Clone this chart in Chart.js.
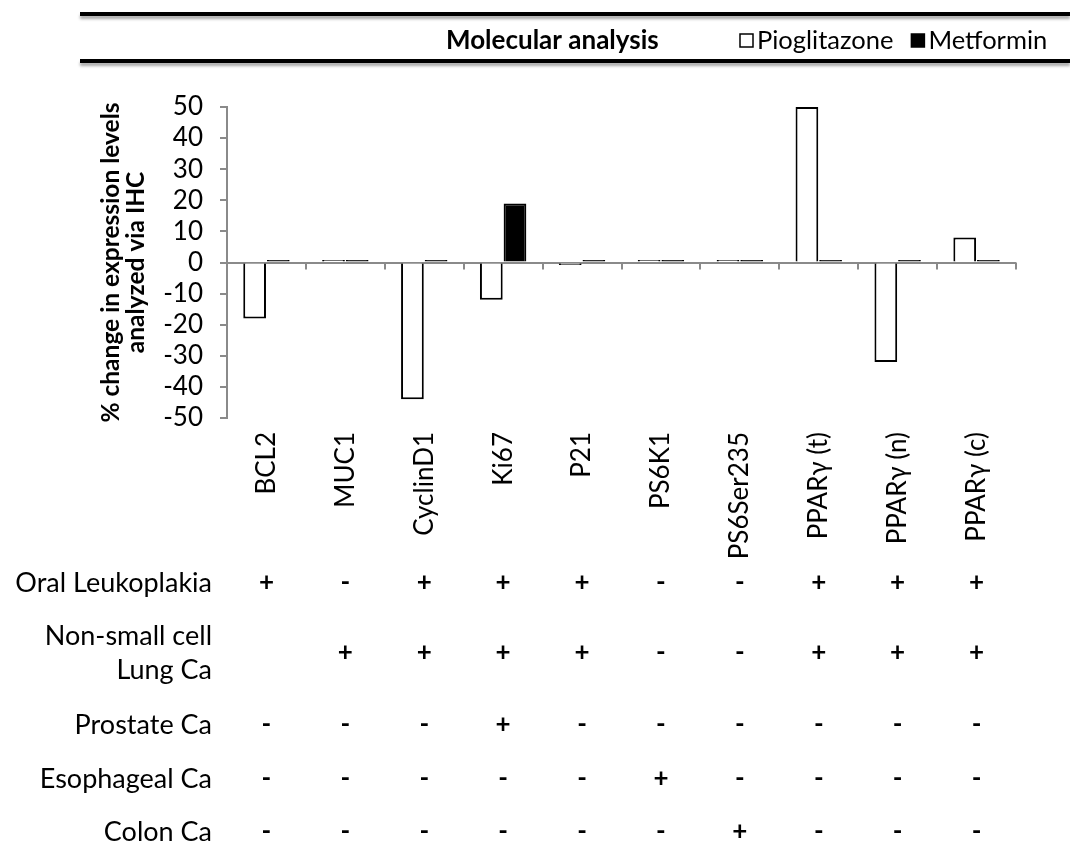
<!DOCTYPE html>
<html>
<head>
<meta charset="utf-8">
<script src="https://cdn.jsdelivr.net/npm/chart.js@4.4.1/dist/chart.umd.min.js"></script>
<style>
html,body{margin:0;padding:0;background:#fff;}
#wrap{width:1070px;height:852px;position:relative;}
</style>
</head>
<body>
<div id="wrap"><canvas id="c" width="1070" height="852"></canvas></div>
<script>
const categories = ['BCL2','MUC1','CyclinD1','Ki67','P21','PS6K1','PS6Ser235','PPARγ (t)','PPARγ (n)','PPARγ (c)'];
const pioglitazone = [-18, 0.8, -44, -12, -0.8, 0.8, 0.8, 50, -32, 8];
const metformin = [0.8, 0.8, 0.8, 19, 0.8, 0.8, 0.8, 0.8, 0.8, 0.8];
const seriesNames = ['Pioglitazone', 'Metformin'];
const headerTitle = 'Molecular analysis';
const yTitle = ['% change in expression levels', 'analyzed via IHC'];
const tableRows = ['Oral Leukoplakia', ['Non-small cell', 'Lung Ca'], 'Prostate Ca', 'Esophageal Ca', 'Colon Ca'];
const tableMarks = [
  ['+','-','+','+','+','-','-','+','+','+'],
  ['', '+','+','+','+','-','-','+','+','+'],
  ['-','-','-','+','-','-','-','-','-','-'],
  ['-','-','-','-','-','+','-','-','-','-'],
  ['-','-','-','-','-','-','+','-','-','-']
];
const tableRowY = [583, 653, 725, 779, 832];

const AXIS_GREY = '#8a8a8a';

const decorPlugin = {
  id: 'decor',
  beforeDatasetsDraw(chart) {
    const ctx = chart.ctx;
    const x = chart.scales.x, y = chart.scales.y;
    const y0 = y.getPixelForValue(0);
    ctx.save();
    ctx.strokeStyle = AXIS_GREY;
    ctx.lineWidth = 2;
    const n = categories.length;
    const half = (x.getPixelForValue(1) - x.getPixelForValue(0)) / 2;
    for (let i = 0; i < n; i++) {
      const bx = Math.round(x.getPixelForValue(i) + half);
      ctx.beginPath();
      ctx.moveTo(bx, y0);
      ctx.lineTo(bx, y0 + 7);
      ctx.stroke();
    }
    ctx.restore();
  },
  afterDraw(chart) {
    const ctx = chart.ctx;
    const x = chart.scales.x;
    ctx.save();
    // header rules
    ctx.strokeStyle = '#000';
    ctx.lineWidth = 4;
    ctx.shadowColor = 'rgba(0,0,0,0.35)';
    ctx.shadowOffsetY = 3;
    ctx.shadowBlur = 3;
    [14, 61].forEach(yy => {
      ctx.beginPath();
      ctx.moveTo(80, yy);
      ctx.lineTo(1070, yy);
      ctx.stroke();
    });
    ctx.shadowColor = 'transparent';
    // header title
    ctx.fillStyle = '#000';
    ctx.textBaseline = 'middle';
    ctx.textAlign = 'left';
    ctx.font = 'bold 26px Lato';
    ctx.fillText(headerTitle, 446, 41);
    // legend
    ctx.font = '25.5px Lato';
    const ds = chart.data.datasets;
    let lx = 740;
    ds.forEach((d, i) => {
      ctx.fillStyle = d.backgroundColor;
      ctx.strokeStyle = '#000';
      ctx.lineWidth = 1.5;
      ctx.fillRect(lx, 34, 13, 13);
      ctx.strokeRect(lx, 34, 13, 13);
      ctx.fillStyle = '#000';
      ctx.fillText(d.label, lx + 17, 41);
      lx += 17 + ctx.measureText(d.label).width + 18;
    });
    // table
    ctx.font = '27px Lato';
    ctx.textAlign = 'right';
    tableRows.forEach((r, ri) => {
      const yy = tableRowY[ri];
      if (Array.isArray(r)) {
        ctx.fillText(r[0], 212, yy - 17);
        ctx.fillText(r[1], 212, yy + 17);
      } else {
        ctx.fillText(r, 212, yy);
      }
    });
    ctx.textAlign = 'center';
    ctx.font = 'bold 26px Lato';
    tableMarks.forEach((row, ri) => {
      row.forEach((m, ci) => {
        if (!m) return;
        ctx.fillText(m, x.getPixelForValue(ci), tableRowY[ri]);
      });
    });
    ctx.restore();
  }
};

new Chart(document.getElementById('c'), {
  type: 'bar',
  data: {
    labels: categories,
    datasets: [
      { label: seriesNames[0], data: pioglitazone, backgroundColor: '#ffffff', borderColor: '#000', borderWidth: 2, categoryPercentage: 0.6, barPercentage: 0.96 },
      { label: seriesNames[1], data: metformin, backgroundColor: '#000000', borderColor: '#000', borderWidth: 2, categoryPercentage: 0.6, barPercentage: 0.96 }
    ]
  },
  options: {
    responsive: false,
    animation: false,
    devicePixelRatio: 1,
    layout: { padding: { top: 107, right: 54, bottom: 0, left: 0 } },
    plugins: { legend: { display: false }, tooltip: { enabled: false }, title: { display: false } },
    scales: {
      x: {
        grid: { display: false, drawTicks: false },
        border: { display: false },
        ticks: { minRotation: 90, maxRotation: 90, autoSkip: false, padding: 14, color: '#000', font: { family: 'Lato', size: 26 } },
        afterFit(s) { s.height = 434; }
      },
      y: {
        min: -50, max: 50,
        border: { display: true, color: AXIS_GREY, width: 2 },
        grid: {
          drawOnChartArea: true,
          color: c => (c.tick && c.tick.value === 0) ? AXIS_GREY : 'rgba(0,0,0,0)',
          lineWidth: 2,
          tickColor: AXIS_GREY,
          tickLength: 7,
          drawTicks: true
        },
        ticks: { stepSize: 10, autoSkip: false, padding: 17, color: '#000', font: { family: 'Lato', size: 26 } },
        title: { display: true, text: yTitle, color: '#000', font: { family: 'Lato', size: 24.5, weight: 'bold', lineHeight: 1.0 }, padding: { top: 99, bottom: 0 } },
        afterFit(s) { s.width = 227; }
      }
    }
  },
  plugins: [decorPlugin]
});
</script>
</body>
</html>
